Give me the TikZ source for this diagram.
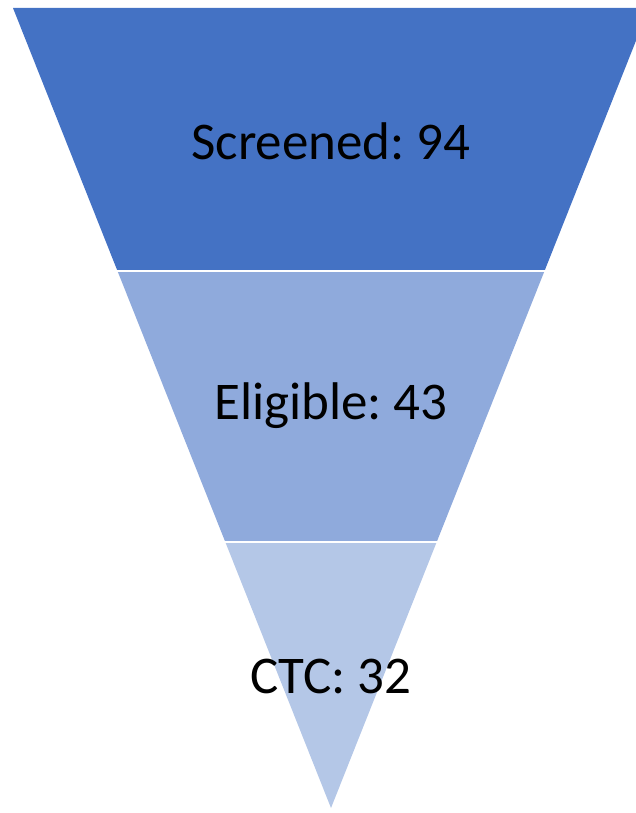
\documentclass[tikz,border=0pt]{standalone}
\usepackage{fontspec}
\setmainfont{Carlito}
\frenchspacing
\definecolor{bandA}{HTML}{4472C4}
\definecolor{bandB}{HTML}{8FAADC}
\definecolor{bandC}{HTML}{B4C7E7}
\begin{document}
\begin{tikzpicture}[x=1pt,y=-1pt,
  lbl/.style={text=black,font=\fontsize{53}{60}\selectfont\frenchspacing,inner sep=0pt}]
\useasboundingbox (0,0) rectangle (636,813);
\begin{scope}
\clip (0,0) rectangle (636,813);
\fill[bandA] (13,8) -- (649,8) -- (544.5,271) -- (117.5,271) -- cycle;
\fill[bandB] (117.5,271) -- (544.5,271) -- (436.7,542) -- (225.3,542) -- cycle;
\fill[bandC] (225.3,542) -- (436.7,542) -- (331,808) -- cycle;
\draw[white,line width=2.2pt] (100,271) -- (560,271);
\draw[white,line width=2.2pt] (210,542) -- (450,542);
\end{scope}
\node[lbl] (s) at (331,141) {Screened: 94};
\node[lbl] (e) at (331,406) {Eligible: 43};
\node[lbl] (c) at (331,677) {CTC: 32};
\end{tikzpicture}
\end{document}
